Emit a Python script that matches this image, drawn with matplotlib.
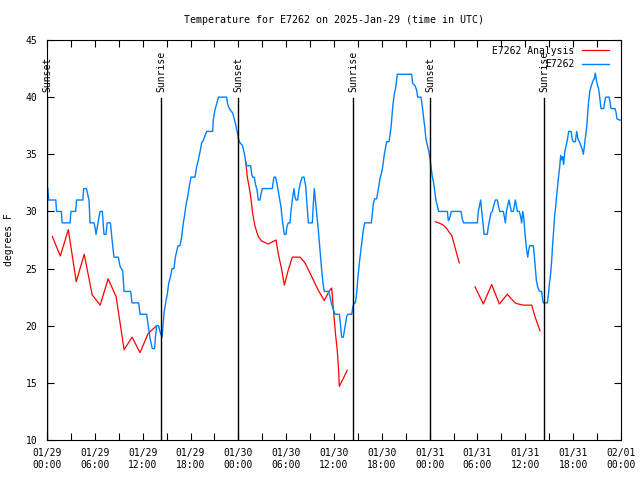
import datetime as dt

import numpy as np
import matplotlib
matplotlib.use("Agg")
import matplotlib.pyplot as plt

# hours since 2025-01-29 00:00 UTC
start = dt.datetime(2025, 1, 29)

blue_hours = [
    0.1, 0.2, 1.1, 1.2, 1.8, 1.9, 2.9, 3.0, 3.6, 3.7, 4.5, 4.6, 4.95, 5.1, 5.27, 5.4,
    5.9, 6.0, 6.15, 6.4, 6.65, 6.94, 7.15, 7.4, 7.55, 7.95, 8.24, 8.4, 8.95, 9.16, 9.5,
    9.66, 10.5, 10.66, 11.5, 11.67, 12.5, 12.7, 12.9, 13.2, 13.5, 13.6, 13.76, 14.0,
    14.2, 14.43, 14.68, 14.93, 15.1, 15.26, 15.5, 15.68, 15.93, 16.1, 16.43, 16.68,
    16.9, 17.1, 17.27, 17.44, 17.65, 17.85, 18.06, 18.56, 18.77, 18.98, 19.19, 19.4,
    19.6, 19.8, 20.03, 20.78, 20.86, 21.07, 21.28, 21.5, 22.54, 22.66, 22.87, 23.3,
    23.6, 23.85, 24.0, 24.2, 24.5, 24.75, 24.96, 25.04, 25.54, 25.67, 25.8, 26.0,
    26.18, 26.34, 26.51, 26.72, 26.84, 27.0, 28.26, 28.47, 28.68, 28.85, 29.1, 29.35,
    29.52, 29.69, 29.77, 29.98, 30.1, 30.27, 30.48, 30.6, 30.77, 30.98, 31.1, 31.23,
    31.44, 31.6, 31.82, 32.03, 32.24, 32.45, 32.66, 32.78, 33.28, 33.41, 33.53, 33.7,
    33.87, 34.03, 34.24, 34.45, 34.62, 34.78, 35.28, 35.41, 35.7, 35.91, 36.13, 36.67,
    36.8, 36.96, 37.17, 37.38, 37.59, 37.72, 38.22, 38.35, 38.51, 38.68, 38.85, 39.01,
    39.18, 39.35, 39.51, 39.68, 39.85, 40.68, 40.81, 40.93, 41.1, 41.35, 41.48, 41.65,
    41.77, 41.94, 42.11, 42.27, 42.44, 42.61, 42.9, 43.03, 43.19, 43.32, 43.44, 43.57,
    43.74, 43.94, 45.74, 45.87, 46.16, 46.37, 46.5, 46.91, 47.04, 47.21, 47.38, 47.54,
    47.71, 47.88, 48.04, 48.17, 48.34, 48.5, 48.67, 48.8, 48.96, 49.13, 50.22, 50.34,
    50.45, 50.59, 50.72, 51.93, 52.1, 52.27, 53.98, 54.1, 54.28, 54.4, 54.53, 54.69,
    54.82, 55.23, 55.36, 55.53, 55.7, 55.86, 56.03, 56.24, 56.49, 56.62, 56.79, 57.24,
    57.37, 57.5, 57.62, 57.79, 57.95, 58.12, 58.24, 58.5, 58.62, 58.75, 58.87, 59.0,
    59.25, 59.42, 59.54, 59.67, 59.8, 59.92, 60.05, 60.17, 60.3, 60.42, 60.55, 61.0,
    61.13, 61.25, 61.38, 61.55, 61.72, 61.84, 62.05, 62.18, 62.26, 62.76, 62.89, 63.01,
    63.18, 63.31, 63.43, 63.56, 63.68, 63.81, 63.93, 64.06, 64.18, 64.31, 64.43, 64.56,
    64.68, 64.81, 64.94, 65.1, 65.27, 65.44, 65.73, 65.9, 66.02, 66.27, 66.44, 66.61,
    66.78, 66.95, 67.11, 67.28, 67.4, 67.53, 67.7, 67.82, 67.95, 68.11, 68.28, 68.53,
    68.65, 68.78, 68.9, 69.07, 69.2, 69.37, 69.49, 69.83, 69.96, 70.08, 70.5, 70.62,
    70.75, 71.25, 71.37, 71.5, 71.8, 72.0,
]
blue_temps = [
    32, 31, 31, 30, 30, 29, 29, 30, 30, 31, 31, 32, 32, 31.5, 31, 29,
    29, 28.7, 28, 29, 30, 30, 28, 28, 29, 29, 27, 26, 26, 25.2, 24.8,
    23, 23, 22, 22, 21, 21, 20, 19, 18, 18, 19, 20, 20,
    19.4, 19, 21.1, 22.2, 22.8, 23.7, 24.3, 25, 25, 26, 27, 27,
    27.8, 29, 29.7, 30.6, 31.3, 32.2, 33, 33, 33.9, 34.5, 35.2, 36,
    36.2, 36.6, 37, 37, 38, 38.9, 39.4, 40, 40, 39.4, 39, 38.6,
    37.8, 37, 36.4, 36, 35.8, 35.1, 34.2, 34, 34, 33.3, 33, 33,
    32.3, 31.9, 31, 31, 31.5, 32, 32, 33, 33, 32.4, 31.4, 30.4,
    29.2, 28.4, 28, 28, 28.7, 29, 29, 30, 31, 32, 31.3, 31,
    31, 31.9, 32.6, 33, 33, 32.2, 30.1, 29, 29, 30.7, 32, 30.7,
    29.5, 28.4, 26.6, 24.9, 23.7, 23, 23, 22.8, 21.9, 21.4, 21, 21,
    20.2, 19, 19, 19.9, 20.8, 21, 21, 21.6, 22, 22, 22.9, 24.3,
    25.5, 26.5, 27.4, 28.4, 29, 29, 29.8, 30.7, 31.1, 31.1, 31.6, 32.3,
    32.9, 33.3, 33.9, 34.8, 35.5, 36.1, 36.1, 36.7, 37.6, 38.8, 39.6, 40.3,
    40.8, 42, 42, 41.2, 41, 40.6, 40, 40, 39.4, 38.4, 37.4, 36.3,
    35.8, 35.3, 34.6, 33.9, 33, 32.5, 31.6, 30.9, 30.5, 30, 30, 29.2,
    29.3, 29.6, 30, 30, 29.3, 29, 29, 30, 30.6, 31, 30, 29,
    28, 28, 28.7, 29.3, 29.9, 30, 30.5, 31, 31, 30.5, 30, 30,
    29.5, 29, 30, 30.5, 31, 30.4, 30, 30, 30.5, 31, 30.5, 30,
    30, 29.5, 29, 30, 29.5, 28.4, 27.4, 26.6, 26, 26.6, 27, 27,
    26.1, 25.1, 24, 23.4, 23.1, 23, 23, 22.25, 22, 22, 22.7, 23.6,
    24.6, 25.75, 27.2, 28.4, 29.7, 30.4, 31.4, 32.3, 33.1, 33.9, 34.9, 34.5,
    34.8, 34.1, 35.2, 35.7, 36.25, 37, 37, 36.3, 36.1, 36.1, 37, 36.3,
    36.1, 35.8, 35.5, 35, 35.7, 36.4, 37.4, 38.6, 39.7, 40.6, 41, 41.5,
    41.6, 42.1, 41.5, 41, 40.7, 39.75, 39, 39, 39.6, 40, 40, 39.6,
    39, 39, 38.7, 38.1, 38, 38,
]

# analysis series, None marks a gap
red_hours = [
    0.67, 1.67, 2.67, 3.67, 4.67, 5.67, 6.67, 7.67, 8.67, 9.67, 10.67, 11.67, 12.67, 13.67,
    None,
    24.92, 25.13, 25.34, 25.55, 25.8, 26.09, 26.5, 26.93, 27.76, 28.73, 29.01, 29.44,
    29.77, 30.27, 30.77, 31.74, 32.36, 33.2, 34.03, 34.78, 35.37, 35.71, 35.95, 36.2,
    36.4, 36.55, 36.67, 37.67,
    None,
    48.71, 49.3, 49.71, 50.14, 50.43, 50.77, 51.05, 51.39, 51.72,
    None,
    53.69, 54.73, 55.78, 56.74, 57.74, 58.7, 59.12, 59.75, 60.8, 61.21, 61.84,
]
red_temps = [
    27.8, 26.1, 28.4, 23.85, 26.25, 22.7, 21.8, 24.1, 22.55, 17.9, 19.0, 17.65, 19.3, 19.95,
    None,
    34.35, 33.0, 32.2, 31.3, 29.8, 28.7, 27.8, 27.4, 27.15, 27.5, 26.3, 24.9,
    23.55, 24.9, 26.0, 26.0, 25.5, 24.3, 23.1, 22.2, 23.0, 23.3, 21.2, 19.2,
    17.9, 16.5, 14.7, 16.1,
    None,
    29.1, 28.95, 28.8, 28.5, 28.2, 27.9, 27.2, 26.3, 25.5,
    None,
    23.4, 21.9, 23.6, 21.9, 22.75, 22.0, 21.9, 21.8, 21.8, 20.8, 19.55,
]

sunset_hours = [0.0, 24.0, 48.05]
sunrise_hours = [14.35, 38.42, 62.38]

plt.rcParams['font.family'] = ['DejaVu Sans Mono']
plt.rcParams['font.size'] = 7

fig = plt.figure(figsize=(6.4, 4.8), dpi=100)
ax = fig.add_axes([47 / 640, 40 / 480, 574 / 640, 400 / 480])

rh = np.array([np.nan if v is None else v for v in red_hours], dtype=float)
rt = np.array([np.nan if v is None else v for v in red_temps], dtype=float)

ax.plot(rh, rt, color='#ff0000', lw=0.9, label='E7262 Analysis')
ax.plot(blue_hours, blue_temps, color='#0080ff', lw=1.0, label='E7262')

for h in sunset_hours:
    ax.plot([h, h], [10, 39.9], color='black', lw=1.0)
    ax.text(h, 40.45, 'Sunset', rotation=90, ha='center', va='bottom')
for h in sunrise_hours:
    ax.plot([h, h], [10, 39.9], color='black', lw=1.0)
    ax.text(h, 40.45, 'Sunrise', rotation=90, ha='center', va='bottom')

ax.set_xlim(0, 72)
ax.set_ylim(10, 45)
ax.set_yticks(range(10, 46, 5))
ax.set_xticks(range(0, 73, 3))
labels = []
for h in range(0, 73, 3):
    if h % 6 == 0:
        t = start + dt.timedelta(hours=h)
        labels.append(t.strftime('%m/%d\n%H:%M'))
    else:
        labels.append('')
ax.set_xticklabels(labels)
ax.tick_params(direction='in', top=True, right=True, length=5, width=0.8)
ax.tick_params(axis='y', pad=7)
ax.tick_params(axis='x', pad=6)
for s in ax.spines.values():
    s.set_linewidth(0.8)

ax.set_ylabel('degrees F', labelpad=8)
ax.set_title('Temperature for E7262 on 2025-Jan-29 (time in UTC)', fontsize=7.2, pad=12)

ax.legend(loc='upper right', frameon=False, markerfirst=False, handlelength=2.8,
          handletextpad=0.8, labelspacing=0.35, borderaxespad=0.2,
          bbox_to_anchor=(0.99, 1.0))

fig.savefig('out.png', dpi=100)
